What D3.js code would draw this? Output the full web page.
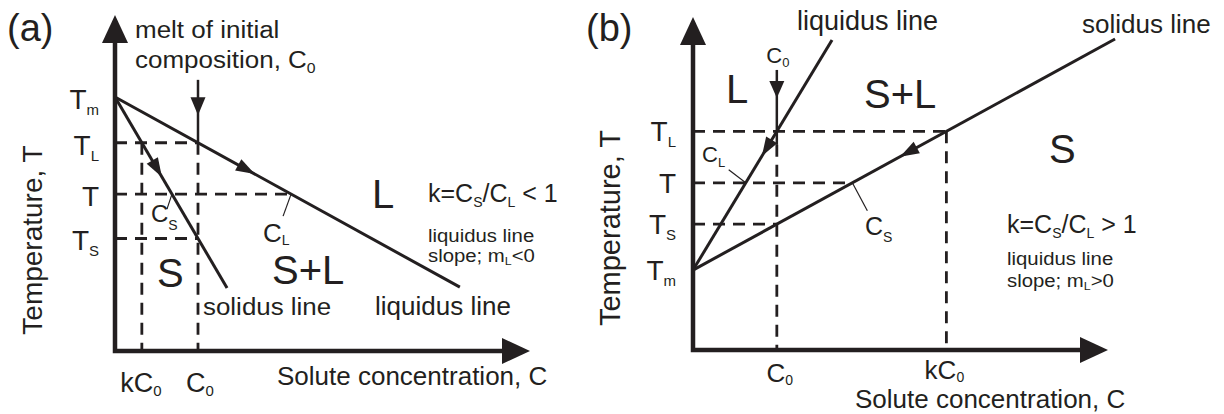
<!DOCTYPE html>
<html>
<head>
<meta charset="utf-8">
<script src="https://cdn.jsdelivr.net/npm/d3@7"></script>
<style>
  html, body { margin: 0; padding: 0; background: #fff; }
  svg { display: block; }
  text { font-family: "Liberation Sans", Arial, Helvetica, sans-serif; fill: #231f20; white-space: pre; }
</style>
</head>
<body>
<svg id="chart" width="1224" height="414"></svg>
<script>
// Diagram units: solute concentration 0–100 along x, temperature 0–100 along y.

// ---------- Panel (a): k < 1, both lines fall from the melting point ----------
const liquidusA = [[0, 75.6], [83.1, 19.0]];
const solidusA  = [[0, 75.6], [27.0, 18.75]];
const c0A = 20.0;                       // initial melt composition
const tA = 46.7;                        // working temperature T
const c0MarkerA = [80.7, 70.2];         // C0 marker: start and arrow tip (temperature)
const flowA = [["solidus", 11.3, 1], ["liquidus", 33.7, 1]];   // [line, C at tip, direction]
const tempLabelsA = ["T_m", "T_L", "T", "T_S"];
const concLabelsA = ["kC_0", "C_0"];

// ---------- Panel (b): k > 1, both lines rise from the melting point ----------
const liquidusB = [[0, 24.0], [33.5, 93.1]];
const solidusB  = [[0, 24.0], [101.7, 93.4]];
const c0B = 20.2;
const tB = 50.2;
const c0MarkerB = [84.1, 75.7, 61.6];   // start, arrow tip, end of solid part
const flowB = [["liquidus", 16.6, -1], ["solidus", 49.9, -1]];
const tempLabelsB = ["T_L", "T", "T_S", "T_m"];
const concLabelsB = ["C_0", "kC_0"];

const INK = "#231f20";
const svg = d3.select("#chart");

// value of a straight line at a given concentration / temperature
const tAt = (seg, c) => seg[0][1] + (seg[1][1] - seg[0][1]) * (c - seg[0][0]) / (seg[1][0] - seg[0][0]);
const cAt = (seg, t) => seg[0][0] + (seg[1][0] - seg[0][0]) * (t - seg[0][1]) / (seg[1][1] - seg[0][1]);

// text with single-character subscripts written as "_x"
function rich(g, str, x, y, o = {}) {
  const size = o.size || 24;
  const sub = o.sub || Math.round(size * 0.56);
  const dy = o.dy != null ? o.dy : Math.round(size * 0.26);
  const sx = o.sx || 1;
  let tf = `translate(${x},${y})`;
  if (o.rotate) tf += ` rotate(${o.rotate})`;
  if (sx !== 1) tf += ` scale(${sx},1)`;
  const t = g.append("text").attr("transform", tf)
    .attr("font-size", size).attr("text-anchor", o.anchor || "start");
  let shifted = false;
  str.split(/(_\w)/).filter(s => s).forEach(p => {
    if (p[0] === "_") {
      t.append("tspan").attr("font-size", sub).attr("dy", dy).text(p.slice(1));
      shifted = true;
    } else {
      t.append("tspan").attr("dy", shifted ? -dy : null).text(p);
      shifted = false;
    }
  });
  return t;
}

function head(g, tip, dir, len, half) {
  const [ux, uy] = dir, nx = -uy, ny = ux;
  const bx = tip[0] - ux * len, by = tip[1] - uy * len;
  g.append("path")
    .attr("d", `M${tip[0]},${tip[1]}L${bx + nx * half},${by + ny * half}L${bx - nx * half},${by - ny * half}Z`)
    .attr("fill", INK);
}

function axes(g, x, y) {
  const x0 = x(0), y0 = y(0), xe = x(100), ye = y(100), L = 27;
  g.append("path").attr("d", `M${x0},${ye + L}V${y0}H${xe - L}`)
    .attr("fill", "none").attr("stroke", INK).attr("stroke-width", 4.5).attr("stroke-linejoin", "miter");
  head(g, [x0, ye], [0, -1], L + 1, 13);
  head(g, [xe, y0], [1, 0], L + 1, 13);
}

function segLine(g, x, y, pts, w, dash) {
  const l = g.append("path").attr("d", d3.line().x(d => x(d[0])).y(d => y(d[1]))(pts))
    .attr("fill", "none").attr("stroke", INK).attr("stroke-width", w);
  if (dash) l.attr("stroke-dasharray", dash);
  return l;
}

function flowArrow(g, x, y, seg, c, sgn) {
  const p0 = [x(seg[0][0]), y(seg[0][1])], p1 = [x(seg[1][0]), y(seg[1][1])];
  let dx = p1[0] - p0[0], dy = p1[1] - p0[1];
  const n = Math.hypot(dx, dy);
  dx = dx / n * sgn; dy = dy / n * sgn;
  head(g, [x(c), y(tAt(seg, c))], [dx, dy], 19, 6.5);
}

const DASH = "12,8";

// ======================= Panel (a) =======================
{
  const g = svg.append("g");
  const x = d3.scaleLinear().domain([0, 100]).range([115, 530]);
  const y = d3.scaleLinear().domain([0, 100]).range([351, 15]);

  const Tm = liquidusA[0][1];
  const TL = tAt(liquidusA, c0A);
  const TS = tAt(solidusA, c0A);
  const kC0 = cAt(solidusA, TL);
  const CL = cAt(liquidusA, tA);
  const CS = cAt(solidusA, tA);

  // tie lines and composition guides
  segLine(g, x, y, [[0, TL], [c0A, TL]], 2.8, DASH);
  segLine(g, x, y, [[0, tA], [CL, tA]], 2.8, DASH);
  segLine(g, x, y, [[0, TS], [c0A, TS]], 2.8, DASH);
  segLine(g, x, y, [[kC0, TL], [kC0, 0]], 2.8, DASH);
  segLine(g, x, y, [[c0A, TL], [c0A, 0]], 2.8, DASH);

  // liquidus and solidus
  segLine(g, x, y, liquidusA, 3);
  segLine(g, x, y, solidusA, 3);
  flowA.forEach(([k, c, s]) => flowArrow(g, x, y, k === "solidus" ? solidusA : liquidusA, c, s));

  // C0 marker
  segLine(g, x, y, [[c0A, c0MarkerA[0]], [c0A, TL]], 2.5);
  head(g, [x(c0A), y(c0MarkerA[1])], [0, 1], 18, 7.5);

  axes(g, x, y);

  // leader lines
  g.append("line").attr("x1", x(CS)).attr("y1", y(tA)).attr("x2", x(CS) - 5).attr("y2", y(tA) + 15)
    .attr("stroke", INK).attr("stroke-width", 1.2);
  g.append("line").attr("x1", x(CL)).attr("y1", y(tA)).attr("x2", x(CL) - 8).attr("y2", y(tA) + 22)
    .attr("stroke", INK).attr("stroke-width", 1.2);

  // temperature labels
  [Tm, TL, tA, TS].forEach((v, i) => rich(g, tempLabelsA[i], 99, y(v) + 12, { size: 28, sub: 15, dy: 6, anchor: "end" }));
  // concentration labels
  [kC0, c0A].forEach((v, i) => rich(g, concLabelsA[i], x(v) + (i ? 2 : -1), 392, { size: 27, sub: 15, dy: 4, anchor: "middle" }));

  rich(g, "(a)", 7, 41, { size: 38 });
  rich(g, "melt of initial", 135, 38, { size: 23, sx: 1.13 });
  rich(g, "composition, C_0", 135, 68, { size: 23, sub: 14, dy: 5, sx: 1.13 });
  rich(g, "Temperature, T", 42, 240, { size: 28, rotate: -90, anchor: "middle" });
  rich(g, "Solute concentration, C", 277, 385, { size: 26 });
  rich(g, "solidus line", 203, 315, { size: 24, sx: 1.08 });
  rich(g, "liquidus line", 375, 315, { size: 26 });
  rich(g, "S", 157, 287, { size: 40 });
  rich(g, "S+L", 272, 284, { size: 40 });
  rich(g, "L", 372, 208, { size: 40 });
  rich(g, "k=C_S/C_L < 1", 428, 202, { size: 25, sub: 14, dy: 5 });
  rich(g, "liquidus line", 428, 242, { size: 18, sx: 1.13 });
  rich(g, "slope; m_L<0", 428, 262, { size: 18, sub: 11, dy: 3, sx: 1.13 });
  rich(g, "C_S", 151, 222, { size: 24, sub: 14, dy: 8 });
  rich(g, "C_L", 263, 242, { size: 26, sub: 14, dy: 3 });
}

// ======================= Panel (b) =======================
{
  const g = svg.append("g");
  const x = d3.scaleLinear().domain([0, 100]).range([693, 1108]);
  const y = d3.scaleLinear().domain([0, 100]).range([350, 17]);

  const Tm = liquidusB[0][1];
  const TL = tAt(liquidusB, c0B);
  const TS = tAt(solidusB, c0B);
  const kC0 = cAt(solidusB, TL);
  const CL = cAt(liquidusB, tB);
  const CS = cAt(solidusB, tB);

  segLine(g, x, y, [[0, TL], [kC0, TL]], 2.8, DASH);
  segLine(g, x, y, [[0, tB], [CS, tB]], 2.8, DASH);
  segLine(g, x, y, [[0, TS], [c0B, TS]], 2.8, DASH);
  segLine(g, x, y, [[c0B, c0MarkerB[2]], [c0B, 0]], 2.8, DASH);
  segLine(g, x, y, [[kC0, TL], [kC0, 0]], 2.8, DASH);

  segLine(g, x, y, liquidusB, 3);
  segLine(g, x, y, solidusB, 3);

  segLine(g, x, y, [[c0B, c0MarkerB[0]], [c0B, c0MarkerB[2]]], 2.5);
  head(g, [x(c0B), y(c0MarkerB[1])], [0, 1], 17, 7.5);
  flowB.forEach(([k, c, s]) => flowArrow(g, x, y, k === "solidus" ? solidusB : liquidusB, c, s));

  axes(g, x, y);

  g.append("line").attr("x1", x(CL)).attr("y1", y(tB)).attr("x2", x(CL) - 17).attr("y2", y(tB) - 13)
    .attr("stroke", INK).attr("stroke-width", 1.2);
  g.append("line").attr("x1", x(CS)).attr("y1", y(tB)).attr("x2", x(CS) + 15).attr("y2", y(tB) + 28)
    .attr("stroke", INK).attr("stroke-width", 1.2);

  [TL, tB, TS, Tm].forEach((v, i) => rich(g, tempLabelsB[i], 676, y(v) + 10, { size: 28, sub: 15, dy: 6, anchor: "end" }));
  [c0B, kC0].forEach((v, i) => rich(g, concLabelsB[i], x(v) + (i ? -2 : 3), i ? 379 : 382, { size: 26, sub: 14, dy: 3, anchor: "middle" }));

  rich(g, "(b)", 586, 41, { size: 38 });
  rich(g, "liquidus line", 797, 30, { size: 27 });
  rich(g, "solidus line", 1082, 33, { size: 26 });
  rich(g, "C_0", x(c0B) + 1, 63, { size: 22, sub: 13, dy: 4, anchor: "middle" });
  rich(g, "Temperature, T", 620, 228, { size: 29, rotate: -90, anchor: "middle" });
  rich(g, "Solute concentration, C", 855, 408, { size: 26 });
  rich(g, "L", 726, 103, { size: 40 });
  rich(g, "S+L", 864, 108, { size: 40 });
  rich(g, "S", 1049, 163, { size: 40 });
  rich(g, "k=C_S/C_L > 1", 1007, 233, { size: 25, sub: 14, dy: 5 });
  rich(g, "liquidus line", 1007, 265, { size: 18, sx: 1.13 });
  rich(g, "slope; m_L>0", 1007, 287, { size: 18, sub: 11, dy: 3, sx: 1.13 });
  rich(g, "C_L", 702, 162, { size: 22, sub: 13, dy: 5 });
  rich(g, "C_S", 865, 235, { size: 25, sub: 14, dy: 7 });
}
</script>
</body>
</html>
